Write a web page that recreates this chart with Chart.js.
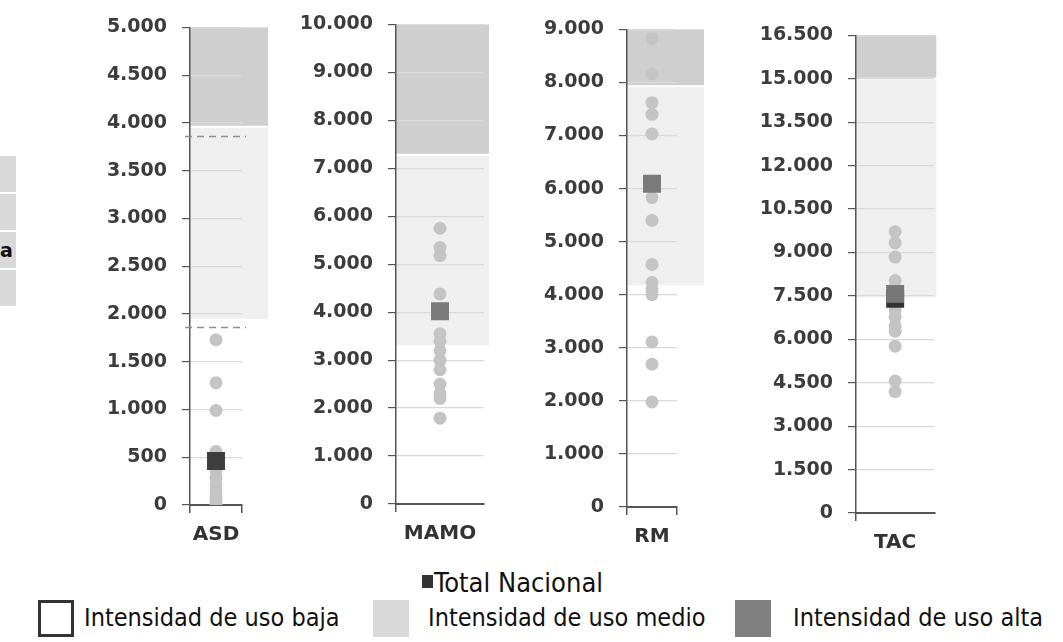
<!DOCTYPE html>
<html lang="es">
<head>
<meta charset="utf-8">
<title>Intensidad de uso</title>
<script src="https://cdn.jsdelivr.net/npm/chart.js@4.4.1/dist/chart.umd.min.js"></script>
<style>
  body { margin: 0; background: #fff; }
  #lienzo { position: relative; width: 1063px; height: 642px; overflow: hidden; background: #fff; }
  #lienzo canvas { position: absolute; }
  .celda { position: absolute; left: 0; width: 16px; height: 36px; background: #d9d9d9;
           font: bold 19px "DejaVu Sans", sans-serif; color: #111; text-align: right; line-height: 36px; }
  .leyenda { position: absolute; font-family: "DejaVu Sans Condensed", "DejaVu Sans", sans-serif;
             font-stretch: condensed; color: #111; white-space: nowrap; line-height: 1; }
  .caja { position: absolute; box-sizing: border-box; }
</style>
</head>
<body>
<div id="lienzo">
  <!-- resto de la tabla recortada a la izquierda -->
  <div class="celda" style="top:156px"></div>
  <div class="celda" style="top:194px"></div>
  <div class="celda" style="top:232px;padding-right:4px;width:12px">a</div>
  <div class="celda" style="top:270px"></div>

  <canvas id="g0"></canvas>
  <canvas id="g1"></canvas>
  <canvas id="g2"></canvas>
  <canvas id="g3"></canvas>

  <div class="caja" style="left:422px;top:575px;width:11px;height:13px;background:#333"></div>
  <div class="leyenda" style="left:434px;top:569px;font-size:27px">Total Nacional</div>

  <div class="caja" style="left:38px;top:600px;width:36px;height:37px;border:3px solid #333"></div>
  <div class="leyenda" style="left:84px;top:605px;font-size:25px">Intensidad de uso baja</div>
  <div class="caja" style="left:373px;top:600px;width:36px;height:37px;background:#d9d9d9"></div>
  <div class="leyenda" style="left:428px;top:605px;font-size:25px">Intensidad de uso medio</div>
  <div class="caja" style="left:735px;top:600px;width:36px;height:37px;background:#808080"></div>
  <div class="leyenda" style="left:793px;top:605px;font-size:25px">Intensidad de uso alta</div>
</div>

<script>
// datos
const categorias = ['ASD', 'MAMO', 'RM', 'TAC'];
const ejeMax = [5000, 10000, 9000, 16500];
const ejePaso = [500, 1000, 1000, 1500];
const inicioMedio = [1950, 3310, 4180, 7450];
const inicioAlto = [3960, 7280, 7930, 15000];
const cortesASD = [3860, 1860];
const totalNacional = [460, 4020, 6090, 7570];
const totalNacionalOscuro = [null, null, null, 7400];

const valoresASD = [1730, 1280, 990, 560, 350, 280, 210, 150, 90, 40, 0];
const valoresMAMO = [5750, 5350, 5180, 4380, 3550, 3400, 3200, 3000, 2800, 2500, 2300, 2200, 1790];
const valoresRM = [8820, 8160, 7620, 7400, 7030, 5830, 5400, 4570, 4230, 4100, 4000, 3110, 2690, 1980];
const valoresTAC = [9720, 9330, 8840, 8030, 7780, 7000, 6770, 6470, 6280, 5760, 4560, 4190];
const valores = [valoresASD, valoresMAMO, valoresRM, valoresTAC];

// posicion de cada panel en la pagina (px)
const paneles = [
  { eje: 190, fin: 242, extra: 26, arriba: 26, abajo: 503, ticDerecho: true,  colorTotal: '#3d3d3d' },
  { eje: 396, fin: 484, extra: 5,  arriba: 23, abajo: 502, ticDerecho: false, colorTotal: '#7a7a7a' },
  { eje: 627, fin: 677, extra: 27, arriba: 28, abajo: 505, ticDerecho: true,  colorTotal: '#7a7a7a' },
  { eje: 856, fin: 935, extra: 2,  arriba: 34, abajo: 511, ticDerecho: false, colorTotal: '#787878' }
];

const anchoEjeY = 110, margenArriba = 20, altoEjeX = 50;
// chart.js deja unos px de mas arriba y abajo, se compensa aqui
const ajusteArriba = 5, ajusteAlto = 7;
const puntos = (cat, lista) => lista.filter(v => v !== null).map(v => ({ x: cat, y: v }));
const miles = v => String(v).replace(/\B(?=(\d{3})+(?!\d))/g, '.');

// franjas de intensidad y lineas discontinuas
const bandas = {
  id: 'bandas',
  beforeDraw(chart, args, opts) {
    const { ctx, chartArea: a, scales: { y } } = chart;
    const i = opts.i, p = paneles[i];
    const der = a.right + p.extra;
    const yAlto = y.getPixelForValue(inicioAlto[i]);
    const yMedio = y.getPixelForValue(inicioMedio[i]);
    const yMax = y.getPixelForValue(ejeMax[i]);
    ctx.save();
    ctx.fillStyle = '#cfcfcf';
    ctx.fillRect(a.left, yMax, der - a.left, yAlto - yMax - 1);
    ctx.fillStyle = '#efefef';
    ctx.fillRect(a.left, yAlto + 1, der - a.left, yMedio - yAlto - 1);
    ctx.restore();
  },
  beforeDatasetsDraw(chart, args, opts) {
    if (opts.i !== 0) return;
    const { ctx, chartArea: a, scales: { y } } = chart;
    ctx.save();
    ctx.strokeStyle = '#8f8f8f';
    ctx.lineWidth = 1.5;
    ctx.setLineDash([7, 5]);
    cortesASD.forEach(v => {
      const yy = Math.round(y.getPixelForValue(v)) + 0.5;
      ctx.beginPath();
      ctx.moveTo(a.left - 5, yy);
      ctx.lineTo(a.right + 4, yy);
      ctx.stroke();
    });
    ctx.restore();
  }
};

categorias.forEach((cat, i) => {
  const p = paneles[i];
  const canvas = document.getElementById('g' + i);
  const ancho = anchoEjeY + (p.fin - p.eje) + p.extra + 10;
  const alto = margenArriba + (p.abajo - p.arriba) + altoEjeX + ajusteAlto;
  canvas.width = ancho;
  canvas.height = alto;
  canvas.style.left = (p.eje - anchoEjeY) + 'px';
  canvas.style.top = (p.arriba - margenArriba - ajusteArriba) + 'px';

  const datasets = [
    {
      label: 'Total Nacional',
      data: puntos(cat, [totalNacional[i]]),
      pointStyle: 'rect', pointRadius: 12.7, pointHoverRadius: 12.7,
      backgroundColor: p.colorTotal, borderWidth: 0, pointBorderWidth: 0
    },
    {
      label: 'Total Nacional (sombra)',
      data: puntos(cat, [totalNacionalOscuro[i]]),
      pointStyle: 'rect', pointRadius: 12.7,
      backgroundColor: '#333333', borderWidth: 0, pointBorderWidth: 0
    },
    {
      label: cat,
      data: puntos(cat, valores[i]),
      pointStyle: 'circle', pointRadius: 6.5,
      backgroundColor: '#c4c4c4', borderWidth: 0, pointBorderWidth: 0
    }
  ];

  new Chart(canvas, {
    type: 'line',
    data: { labels: [cat], datasets: datasets },
    options: {
      responsive: false,
      animation: false,
      devicePixelRatio: 1,
      showLine: false,
      layout: { padding: { top: margenArriba, right: p.extra + 10, left: 0, bottom: 0 } },
      plugins: {
        legend: { display: false },
        tooltip: { enabled: false },
        bandas: { i: i }
      },
      scales: {
        x: {
          type: 'category',
          offset: true,
          afterFit: s => { s.height = altoEjeX; },
          grid: {
            offset: true,
            drawOnChartArea: false,
            drawTicks: true,
            tickLength: 8,
            lineWidth: 1.5,
            color: c => (c.index === 0 || p.ticDerecho) ? '#555' : 'rgba(0,0,0,0)'
          },
          border: { display: true, color: '#555', width: 2 },
          ticks: {
            padding: 10,
            color: '#333',
            font: { family: 'DejaVu Sans', size: 20, weight: 'bold' }
          }
        },
        y: {
          min: 0,
          max: ejeMax[i],
          afterFit: s => { s.width = anchoEjeY; },
          grid: {
            color: '#dadada',
            lineWidth: 1.2,
            tickColor: '#555',
            tickLength: 8,
            drawTicks: true
          },
          border: { display: true, color: '#555', width: 1.5 },
          ticks: {
            stepSize: ejePaso[i],
            padding: 15,
            color: '#3c3c3c',
            font: { family: 'DejaVu Sans', size: 19, weight: 'bold' },
            callback: v => miles(v)
          }
        }
      }
    },
    plugins: [bandas]
  });
});
</script>
</body>
</html>
